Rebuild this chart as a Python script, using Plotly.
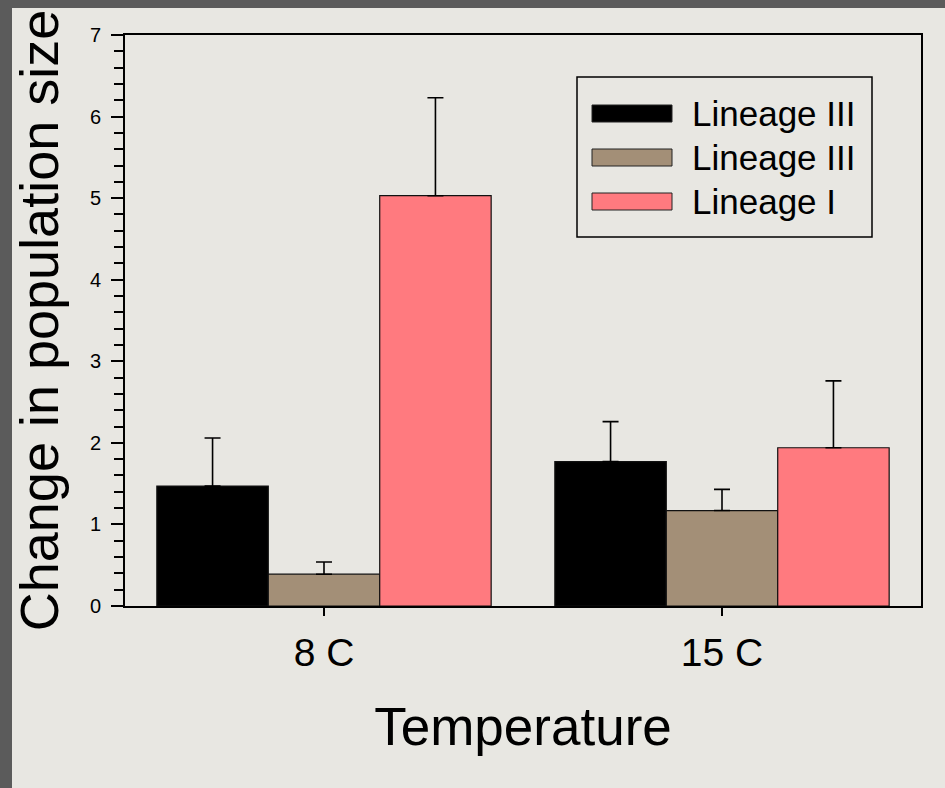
import plotly.graph_objects as go

categories = ["8 C", "15 C"]
series_names = ["Lineage III", "Lineage III", "Lineage I"]
series_colors = ["#000000", "#a38f77", "#ff7a7f"]
values_black = [1.47, 1.77]
values_brown = [0.39, 1.17]
values_pink = [5.03, 1.94]
err_black = [0.59, 0.49]
err_brown = [0.15, 0.26]
err_pink = [1.20, 0.82]
y_ticks = [0, 1, 2, 3, 4, 5, 6, 7]

FONT = "Liberation Sans, Arial, sans-serif"
BG = "#e8e7e2"
DARK = "#5b5b5b"
W, H = 945, 788
ML, MT = 125, 35
PW, PH = 921 - 125, 606 - 35
MR, MB = W - ML - PW, H - MT - PH


def px(x):
    return (x - ML) / PW


def py(y):
    return (MT + PH - y) / PH


fig = go.Figure()
for name, color, vals, errs in zip(series_names, series_colors,
                                   [values_black, values_brown, values_pink],
                                   [err_black, err_brown, err_pink]):
    fig.add_trace(go.Bar(
        x=categories, y=vals, name=name, showlegend=False,
        marker=dict(color=color, line=dict(color="#111111", width=1.2)),
        error_y=dict(type="data", array=errs, arrayminus=[0] * len(errs),
                     symmetric=False, color="#000000", thickness=1.6, width=8),
    ))

shapes = []
# dark frame bands (left and top)
shapes.append(dict(type="rect", xref="paper", yref="paper",
                   x0=px(0), x1=px(12), y0=py(H), y1=py(0),
                   fillcolor=DARK, line=dict(width=0), layer="below"))
shapes.append(dict(type="rect", xref="paper", yref="paper",
                   x0=px(0), x1=px(W), y0=py(8), y1=py(0),
                   fillcolor=DARK, line=dict(width=0), layer="below"))
# legend box
shapes.append(dict(type="rect", xref="paper", yref="paper",
                   x0=px(577), x1=px(872), y0=py(237), y1=py(77),
                   line=dict(color="#000000", width=1.5)))
annotations = []
row_tops = [105, 149, 193]
for name, color, top in zip(series_names, series_colors, row_tops):
    shapes.append(dict(type="rect", xref="paper", yref="paper",
                       x0=px(592), x1=px(672), y0=py(top + 17), y1=py(top),
                       fillcolor=color, line=dict(color="#222222", width=1)))
    annotations.append(dict(xref="paper", yref="paper", x=px(690), y=py(top + 8.5),
                            text=name, showarrow=False, xanchor="left", yanchor="middle",
                            font=dict(family=FONT, size=35, color="#000000")))

fig.update_layout(
    width=W, height=H,
    margin=dict(l=ML, r=MR, t=MT, b=MB, autoexpand=False),
    paper_bgcolor=BG, plot_bgcolor=BG,
    barmode="group", bargap=0.16, bargroupgap=0,
    font=dict(family=FONT, color="#000000"),
    shapes=shapes, annotations=annotations,
    xaxis=dict(
        showline=True, linecolor="#000000", linewidth=2, mirror=True,
        ticks="outside", ticklen=8, tickwidth=1.5, tickcolor="#000000",
        tickfont=dict(family=FONT, size=39), ticklabelstandoff=3,
        showgrid=False, zeroline=False,
        title=dict(text="Temperature", font=dict(family=FONT, size=53), standoff=35),
    ),
    yaxis=dict(
        range=[0, 7], tickvals=y_ticks,
        showline=True, linecolor="#000000", linewidth=2, mirror=True,
        ticks="outside", ticklen=12, tickwidth=2, tickcolor="#000000",
        tickfont=dict(family=FONT, size=20), ticklabelstandoff=6,
        minor=dict(dtick=0.2, ticks="outside", ticklen=9, tickwidth=2, tickcolor="#000000", showgrid=False),
        showgrid=False, zeroline=False,
        title=dict(text="Change in population size", font=dict(family=FONT, size=54), standoff=14),
    ),
)

fig.write_html(
    "out.html",
    config={"displayModeBar": False},
    post_script=(
        "document.body.style.margin='0';"
        "document.documentElement.style.overflow='hidden';"
        "document.body.style.overflow='hidden';"
    ),
)
